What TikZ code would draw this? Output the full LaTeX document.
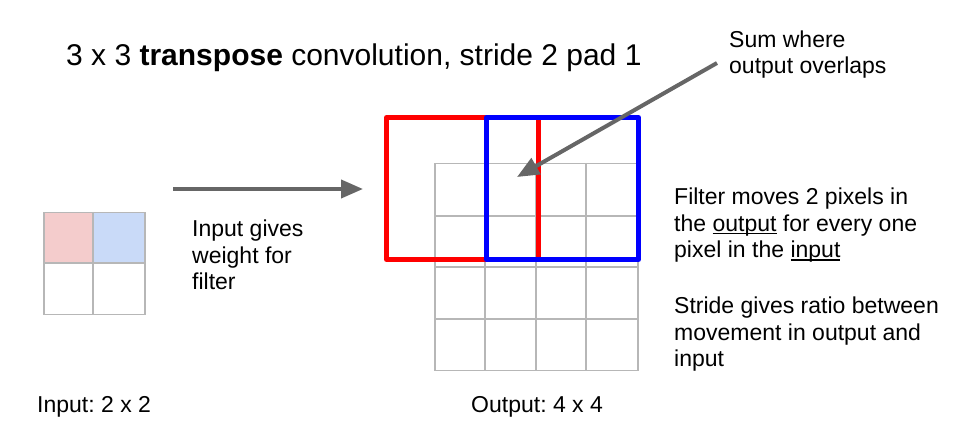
\documentclass[tikz,border=0pt]{standalone}
\usepackage{fontspec}
\setmainfont{Liberation Sans}
\usetikzlibrary{arrows.meta}
\frenchspacing
\definecolor{pinkfill}{HTML}{F4CCCC}
\definecolor{bluefill}{HTML}{C9DAF8}
\definecolor{gridgray}{HTML}{B7B7B7}
\definecolor{arrowgray}{HTML}{666666}
\newcommand\myul[1]{\setbox0\hbox{#1}\rlap{\rule[-2.6pt]{\wd0}{1.1pt}}\box0\relax}
\tikzset{
  body/.style={inner sep=0pt, anchor=base west, align=left, font=\fontsize{23}{26.5}\selectfont},
  title/.style={inner sep=0pt, anchor=base west, font=\fontsize{30}{34}\selectfont},
  gridline/.style={draw=gridgray, line width=1.5pt},
  filterbox/.style={line width=5pt, line join=round},
  pointer/.style={draw=arrowgray, line width=4pt, -{Triangle[length=22pt,width=18pt]}},
}
\begin{document}
\begin{tikzpicture}[x=1pt,y=-1pt]
\useasboundingbox (0,0) rectangle (959,443);
% title
\node[title] (title) at (66,66) {3 x 3 \textbf{transpose} convolution, stride 2 pad 1};
% input grid
\fill[pinkfill] (43,212) rectangle (93,263);
\fill[bluefill] (93,212) rectangle (144,263);
\node[gridline, inner sep=0pt, minimum width=101pt, minimum height=102pt, anchor=north west] (ingrid) at (43,212) {};
\draw[gridline] (93,212) -- (93,314) (43,263) -- (144,263);
% output grid
\node[gridline, inner sep=0pt, minimum width=203pt, minimum height=207pt, anchor=north west] (outgrid) at (434,163) {};
\draw[gridline] (485,163) -- (485,370) (536,163) -- (536,370) (586,163) -- (586,370)
  (434,216) -- (637,216) (434,267) -- (637,267) (434,319) -- (637,319);
% filter boxes
\node[filterbox, draw=red, inner sep=0pt, minimum width=152pt, minimum height=142pt, anchor=north west] (redbox) at (384,115) {};
\node[filterbox, draw=blue, inner sep=0pt, minimum width=152pt, minimum height=142pt, anchor=north west] (bluebox) at (484,115) {};
% arrows
\coordinate (a1s) at (173,189);
\coordinate (a1e) at (363,189);
\draw[pointer] (a1s) -- (a1e);
\coordinate (a2s) at (717,63);
\coordinate (a2e) at (517,177);
\draw[pointer] (a2s) -- (a2e);
% texts (base anchor = baseline of last line)
\node[body] (sum) at (729,74) {Sum where\\output overlaps};
\node[body] (weight) at (192,290) {Input gives\\weight for\\filter};
\node[body] (moves) at (674,258) {Filter moves 2 pixels in\\the \myul{output} for every one\\pixel in the \myul{input}};
\node[body] (stride) at (674,367) {Stride gives ratio between\\movement in output and\\input};
\node[body] (inlabel) at (37,413) {Input: 2 x 2};
\node[body] (outlabel) at (471,413) {Output: 4 x 4};
\end{tikzpicture}
\end{document}
